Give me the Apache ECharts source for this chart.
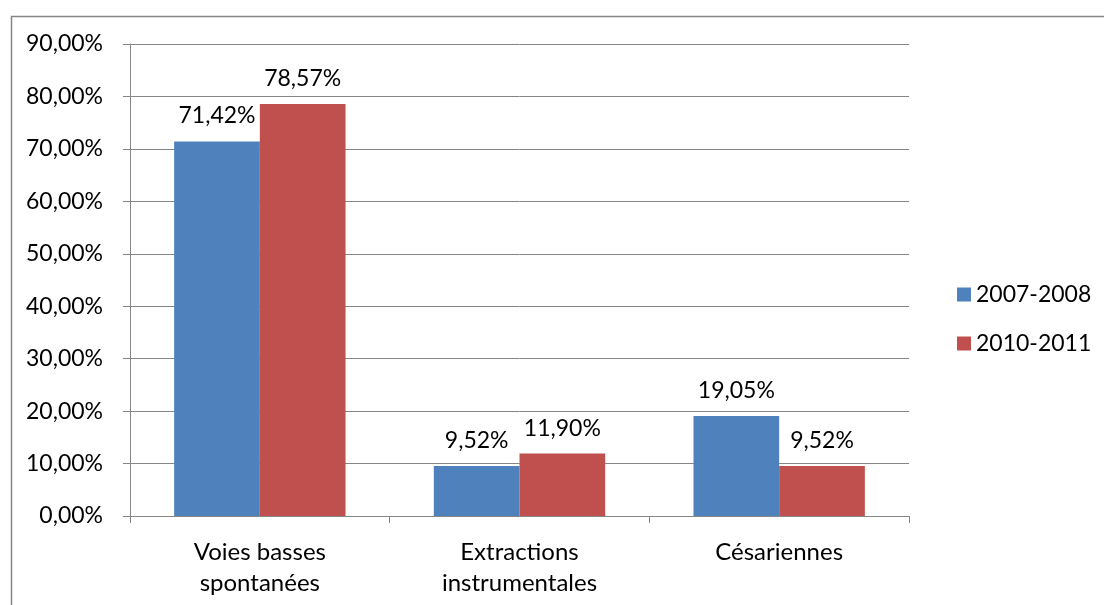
<!DOCTYPE html>
<html>
<head>
<meta charset="utf-8">
<script src="https://cdn.jsdelivr.net/npm/echarts@6/dist/echarts.min.js"></script>
<style>html,body{margin:0;padding:0;background:#fff;}#c{width:1104px;height:605px;}</style>
</head>
<body>
<div id="c"></div>
<script>
const categories = ['Voies basses\nspontanées', 'Extractions\ninstrumentales', 'Césariennes'];
const seriesNames = ['2007-2008', '2010-2011'];
const values2007 = [71.42, 9.52, 19.05];
const values2010 = [78.57, 11.90, 9.52];
const colors = ['#4F81BD', '#C0504D'];
const FONT = 'Lato';
const fmt = v => v.toFixed(2).replace('.', ',') + '%';

const chart = echarts.init(document.getElementById('c'));
const labelCfg = {
  show: true, position: 'top', distance: 14,
  fontFamily: FONT, fontSize: 23, color: '#000',
  formatter: p => fmt(p.value)
};
chart.setOption({
  animation: false,
  textStyle: { fontFamily: FONT },
  graphic: [{
    type: 'rect', left: 9, top: 14, z: -10,
    shape: { width: 1120, height: 620 },
    style: { fill: 'none', stroke: '#868686', lineWidth: 1.5 }
  }],
  grid: { left: 130, right: 195, top: 44, bottom: 89, containLabel: false },
  legend: {
    orient: 'vertical', left: 952, top: 278,
    itemWidth: 14, itemHeight: 14, itemGap: 26,
    icon: 'rect',
    textStyle: { fontFamily: FONT, fontSize: 23, lineHeight: 23, color: '#000' },
    data: seriesNames
  },
  xAxis: {
    type: 'category', data: categories,
    axisLine: { lineStyle: { color: '#868686', width: 1 } },
    axisTick: { show: true, length: 7, lineStyle: { color: '#868686' } },
    axisLabel: { fontFamily: FONT, fontSize: 24, color: '#000', margin: 21, lineHeight: 31 }
  },
  yAxis: {
    type: 'value', min: 0, max: 90, interval: 10,
    axisLine: { show: true, lineStyle: { color: '#868686' } },
    axisTick: { show: true, length: 7, lineStyle: { color: '#868686' } },
    splitLine: { lineStyle: { color: '#868686', width: 1 } },
    axisLabel: { fontFamily: FONT, fontSize: 23, color: '#000', margin: 27, formatter: v => fmt(v) }
  },
  series: [
    { name: seriesNames[0], type: 'bar', data: values2007, itemStyle: { color: colors[0] },
      barGap: '0%', barCategoryGap: '34%', label: labelCfg },
    { name: seriesNames[1], type: 'bar', data: values2010, itemStyle: { color: colors[1] },
      barGap: '0%', barCategoryGap: '34%', label: labelCfg }
  ]
});
</script>
</body>
</html>
